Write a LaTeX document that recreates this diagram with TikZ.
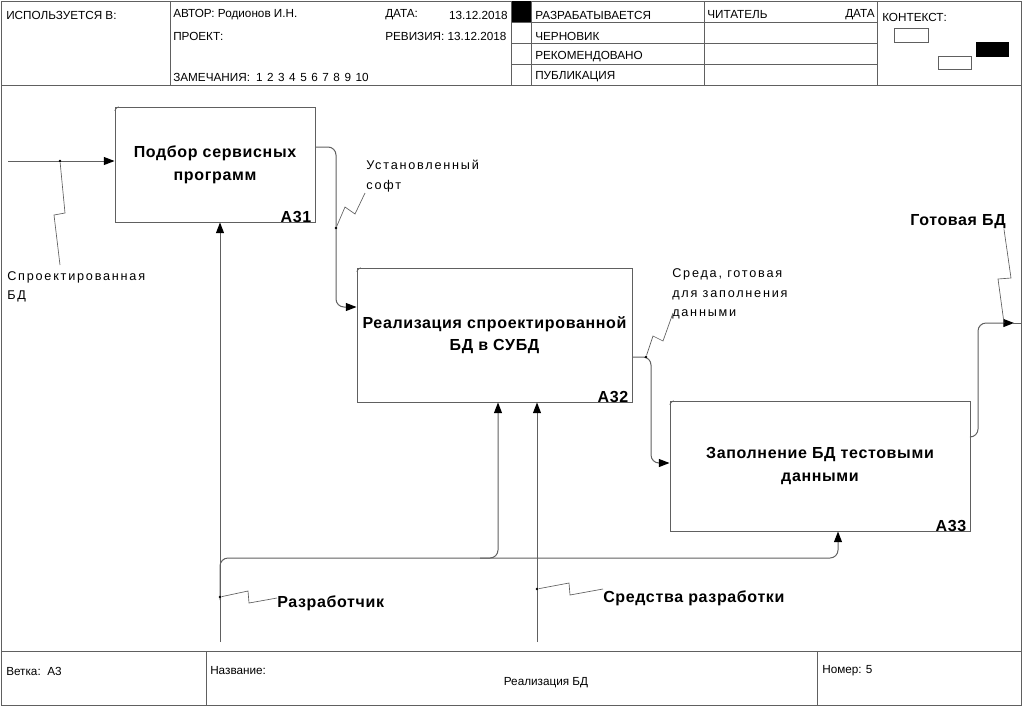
\documentclass[tikz,border=0pt]{standalone}
\usepackage{fontspec}
\setmainfont{Liberation Sans}
\newfontfamily\spacedfont[LetterSpace=14]{Liberation Sans}
\newfontfamily\boldspaced[LetterSpace=4]{Liberation Sans}
\usetikzlibrary{arrows.meta,calc}
\definecolor{ln}{RGB}{96,96,96}
\begin{document}
\begin{tikzpicture}[x=0.75pt,y=-0.75pt,
  frame/.style={draw=ln,line width=0.75pt},
  fnbox/.style={draw=ln,line width=0.75pt,align=center,inner sep=0pt,
    font=\boldspaced\fontsize{12}{17}\selectfont\bfseries},
  arr/.style={draw=ln,line width=0.75pt,-{Triangle[length=8pt,width=6pt,color=black]}},
  wire/.style={draw=ln,line width=0.75pt},
  tip/.style={draw=ln,line width=0.5pt},
  hdr/.style={font=\fontsize{8.8}{10}\selectfont,inner sep=0pt,anchor=west},
  lbl/.style={font=\spacedfont\fontsize{9.5}{14.5}\selectfont,align=left,inner sep=0pt,anchor=west},
  blbl/.style={font=\boldspaced\fontsize{12}{14}\selectfont\bfseries,inner sep=0pt},
  num/.style={font=\boldspaced\fontsize{12}{14}\selectfont\bfseries,inner sep=0pt,anchor=south east},
  dot/.style={circle,fill=black,inner sep=0pt,minimum size=2.2pt}
]
\useasboundingbox (0,0) rectangle (1023,707);

% ---------- sheet frame ----------
\draw[frame] (1,1) rectangle (1021,705);
\draw[frame] (1,85) -- (1021,85);
\draw[frame] (1,651) -- (1021,651);

% ---------- header ----------
\foreach \x in {170,511,531,704,877} \draw[frame] (\x,1) -- (\x,85);
\foreach \y in {22,43,64} \draw[frame] (511,\y) -- (877,\y);
\fill[black] (512,1) rectangle (531,22);

\node[hdr] (used)   at (6,15)   {ИСПОЛЬЗУЕТСЯ В:};
\node[hdr] (author) at (173,15) {АВТОР: Родионов И.Н.};
\node[hdr] (proj)   at (173,36) {ПРОЕКТ:};
\node[hdr] (notes)  at (173,77) {ЗАМЕЧАНИЯ:\hspace{4.5pt}1\hspace{3.4pt}2\hspace{3.4pt}3\hspace{3.4pt}4\hspace{3.4pt}5\hspace{3.4pt}6\hspace{3.4pt}7\hspace{3.4pt}8\hspace{3.4pt}9\hspace{3.4pt}10};
\node[hdr] (date)   at (385,15) {ДАТА:};
\node[hdr,anchor=east] (dateval) at (508,15) {13.12.2018};
\node[hdr] (rev)    at (385,36) {РЕВИЗИЯ: 13.12.2018};
\node[hdr] (st1)    at (535,15) {РАЗРАБАТЫВАЕТСЯ};
\node[hdr] (st2)    at (535,36) {ЧЕРНОВИК};
\node[hdr] (st3)    at (535,57) {РЕКОМЕНДОВАНО};
\node[hdr] (st4)    at (535,77) {ПУБЛИКАЦИЯ};
\node[hdr] (reader) at (707,15) {ЧИТАТЕЛЬ};
\node[hdr,anchor=east] (rdate) at (875,15) {ДАТА};
\node[hdr] (ctx)    at (882,17) {КОНТЕКСТ:};
\draw[frame,line width=0.6pt] (894,28) rectangle (928,42);
\draw[frame,line width=0.6pt] (938,56) rectangle (971,69);
\fill[black] (976,42) rectangle (1009,57);

% ---------- footer ----------
\draw[frame] (206,651) -- (206,705);
\draw[frame] (817,651) -- (817,705);
\node[hdr] (branch) at (6,671)   {Ветка:\ \ A3};
\node[hdr] (title)  at (210,671) {Название:};
\node[font=\fontsize{8.8}{10}\selectfont,inner sep=0pt] (tname) at (546,683) {Реализация БД};
\node[hdr] (numb)   at (822,671) {Номер: 5};

% ---------- function boxes ----------
\node[fnbox,minimum width=150pt,minimum height=86.25pt] (a31) at (215,164.5)
  {Подбор сервисных\\программ};
\node[fnbox,minimum width=206.25pt,minimum height=100.5pt] (a32) at (494.5,335)
  {Реализация спроектированной\\БД в СУБД};
\node[fnbox,minimum width=225pt,minimum height=97.5pt] (a33) at (820,466)
  {Заполнение БД тестовыми\\данными};
\node[num] (n31) at ($(a31.south east)+(-4,0)$) {A31};
\node[num] (n32) at ($(a32.south east)+(-4,0)$) {A32};
\node[num] (n33) at ($(a33.south east)+(-4,0)$) {A33};
\foreach \b in {a31,a32,a33}
  \draw[tip] ($(\b.north west)+(0,4)$) -- ++(4,-4);

% ---------- input: Спроектированная БД ----------
\coordinate (in1) at (8,161);
\draw[arr] (in1) -- (in1 -| a31.west);
\node[dot] (d1) at (60,161) {};
\node[lbl] (l1) at (7,287) {Спроектированная\\БД};
\draw[tip] (d1) -- (65,213) -- (54,215) -- (60,265);

% ---------- A31 -> A32: Установленный софт ----------
\draw[arr,rounded corners=6pt] (a31.east |- 0,147) -- (336,147) -- (336,307) -- (a32.west |- 0,307);
\node[dot] (d2) at (336,228) {};
\node[lbl] (l2) at (366,176) {Установленный\\софт};
\draw[tip] (d2) -- (345,207) -- (355,214) -- (365,193);

% ---------- A32 -> A33: Среда, готовая для заполнения данными ----------
\draw[arr,rounded corners=6pt] (a32.east |- 0,357) -- (651,357) -- (651,463) -- (a33.west |- 0,463);
\node[dot] (d3) at (646,357) {};
\node[lbl] (l3) at (672,294) {Среда, готовая\\для заполнения\\данными};
\draw[tip] (d3) -- (653,336) -- (663,341) -- (673,313);

% ---------- output: Готовая БД ----------
\coordinate (out1) at (1021,323);
\draw[arr,rounded corners=6pt] (a33.east |- 0,437) -- (978,437) -- (978,323) -- (1014,323);
\draw[wire] (1012,323) -- (out1);
\node[blbl] (l4) at (958,222) {Готовая БД};
\draw[tip] (1004,323) -- (998,279) -- (1011,278) -- (l4.south -| 1004,0);

% ---------- mechanism: Разработчик ----------
\coordinate (m1) at (220,642);
\coordinate (j1) at (498,558);
\coordinate (j2) at (838,558);
\draw[arr] (m1) -- (m1 |- a31.south);
\draw[arr,rounded corners=6pt] (220,600) -- (220,558) -- (j1) -- (j1 |- a32.south);
\draw[arr,rounded corners=6pt] (480,558) -- (j2) -- (j2 |- a33.south);
\node[dot] (d5) at (220,597) {};
\node[blbl,anchor=west] (l5) at (277,603) {Разработчик};
\draw[tip] (d5) -- (248,591) -- (249,603) -- (l5.west |- 0,598);

% ---------- mechanism: Средства разработки ----------
\coordinate (m2) at (537,642);
\draw[arr] (m2) -- (m2 |- a32.south);
\node[dot] (d6) at (537,589) {};
\node[blbl,anchor=west] (l6) at (603,598) {Средства разработки};
\draw[tip] (d6) -- (569,583) -- (570,595) -- (l6.west |- 0,589);
\end{tikzpicture}
\end{document}
